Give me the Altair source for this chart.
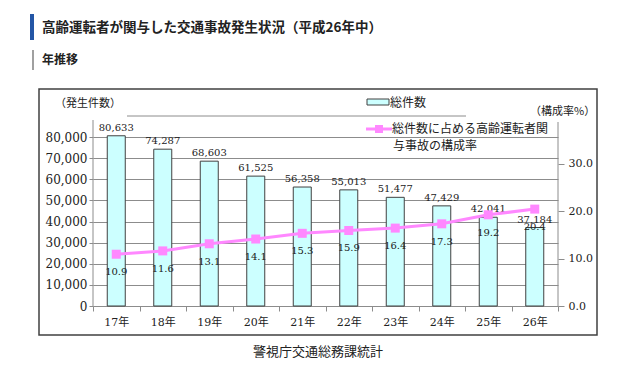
import altair as alt
import pandas as pd

years = ["17年", "18年", "19年", "20年", "21年", "22年", "23年", "24年", "25年", "26年"]
counts = [80633, 74287, 68603, 61525, 56358, 55013, 51477, 47429, 42041, 37184]
rates = [10.9, 11.6, 13.1, 14.1, 15.3, 15.9, 16.4, 17.3, 19.2, 20.4]

df = pd.DataFrame({"year": years, "count": counts, "rate": rates})

JP = "Noto Sans CJK JP"
SERIF = "DejaVu Serif, Noto Sans CJK JP"
GRID = "#8c8c8c"
PINK = "#FF88FF"

base = alt.Chart(df)

xenc = alt.X(
    "year:N", sort=years,
    scale=alt.Scale(paddingInner=0, paddingOuter=0),
    axis=alt.Axis(title=None, labelAngle=0, tickBand="extent", tickSize=5,
                  tickColor=GRID, domainColor=GRID, labelFont=SERIF,
                  labelFontSize=11, labelColor="#222", labelPadding=5),
)

yleft = alt.Y(
    "count:Q", scale=alt.Scale(domain=[0, 90000], nice=False),
    axis=alt.Axis(title=None, values=list(range(0, 90000, 10000)),
                  labelExpr="format(datum.value, ',')",
                  grid=True, gridColor=GRID, domain=False, tickColor=GRID,
                  tickSize=4, labelFont=SERIF, labelFontSize=12,
                  labelColor="#222", labelPadding=2),
)
yright = alt.Y(
    "rate:Q", scale=alt.Scale(domain=[0, 40], nice=False),
    axis=alt.Axis(title=None, orient="right", values=[0, 10, 20, 30],
                  labelExpr="format(datum.value, '.1f')",
                  grid=False, domain=False, tickColor=GRID, tickSize=6,
                  labelFont=SERIF, labelFontSize=11, labelColor="#222",
                  labelPadding=4),
)

bars = base.mark_bar(size=18, fill="#CCFFFF", stroke="#404040", strokeWidth=1).encode(x=xenc, y=yleft)
bar_text = base.mark_text(baseline="bottom", dy=-3, font=SERIF, fontSize=10, color="#222").encode(
    x=xenc, y=yleft, text=alt.Text("count:Q", format=","))
left = alt.layer(bars, bar_text)

line = base.mark_line(color=PINK, strokeWidth=3).encode(x=xenc, y=yright)
pts = base.mark_square(size=81, color=PINK, opacity=1).encode(x=xenc, y=yright)
rate_text = base.mark_text(baseline="middle", dy=18, font=SERIF, fontSize=10, color="#222").encode(
    x=xenc, y=yright, text=alt.Text("rate:Q", format=".1f"))
right = alt.layer(line, pts, rate_text)

one = alt.Data(values=[{}])


def txt(s, x, y, size=11, align="left", weight="normal", font=JP, color="#222"):
    return alt.Chart(one).mark_text(align=align, baseline="middle", fontSize=size,
                                    fontWeight=weight, font=font, color=color).encode(
        x=alt.value(x), y=alt.value(y), text=alt.value(s))


def box(x1, x2, y1, y2, **kw):
    return alt.Chart(one).mark_rect(**kw).encode(
        x=alt.value(x1), x2=alt.value(x2), y=alt.value(y1), y2=alt.value(y2))


def rule(x1, x2, y1, y2, color=GRID, width=1):
    return alt.Chart(one).mark_rule(color=color, strokeWidth=width).encode(
        x=alt.value(x1), x2=alt.value(x2), y=alt.value(y1), y2=alt.value(y2))


decor_back = alt.layer(
    box(-54, 504, -27, 219, fillOpacity=0, stroke="#404040", strokeWidth=1.5),
    rule(34, 373, 0, 0),
    rule(0, 0, 4, 190),
    rule(465, 465, 6, 190),
)

decor_front = alt.layer(
    box(-63, -59, -102, -76, fill="#2456A6"),
    txt("高齢運転者が関与した交通事故発生状況（平成26年中）", -51, -88, size=13.5, weight="bold"),
    box(-61, -59, -66, -46, fill="#A0A0A0"),
    txt("年推移", -51, -56, size=12, weight="bold"),
    txt("（発生件数）", -38, -12, size=11),
    txt("（構成率%）", 437, -4, size=11),
    box(274, 296, -17, -11, fill="#CCFFFF", stroke="#404040", strokeWidth=1),
    txt("総件数", 297, -13, size=12),
    rule(273, 299, 13, 13, color=PINK, width=3),
    alt.Chart(one).mark_square(size=64, color=PINK, opacity=1).encode(x=alt.value(286), y=alt.value(13)),
    txt("総件数に占める高齢運転者関", 299, 13, size=12),
    txt("与事故の構成率", 300, 30, size=12),
    txt("警視庁交通総務課統計", 225, 236, size=13, align="center"),
)

chart = alt.layer(decor_back, left, right, decor_front).resolve_scale(y="independent").properties(
    width=465, height=190, autosize="none",
    padding={"left": 85, "top": 108, "right": 74, "bottom": 58},
    background="white",
).configure_view(stroke=None)

chart.save("out.html", embed_options={"renderer": "svg", "actions": False})
